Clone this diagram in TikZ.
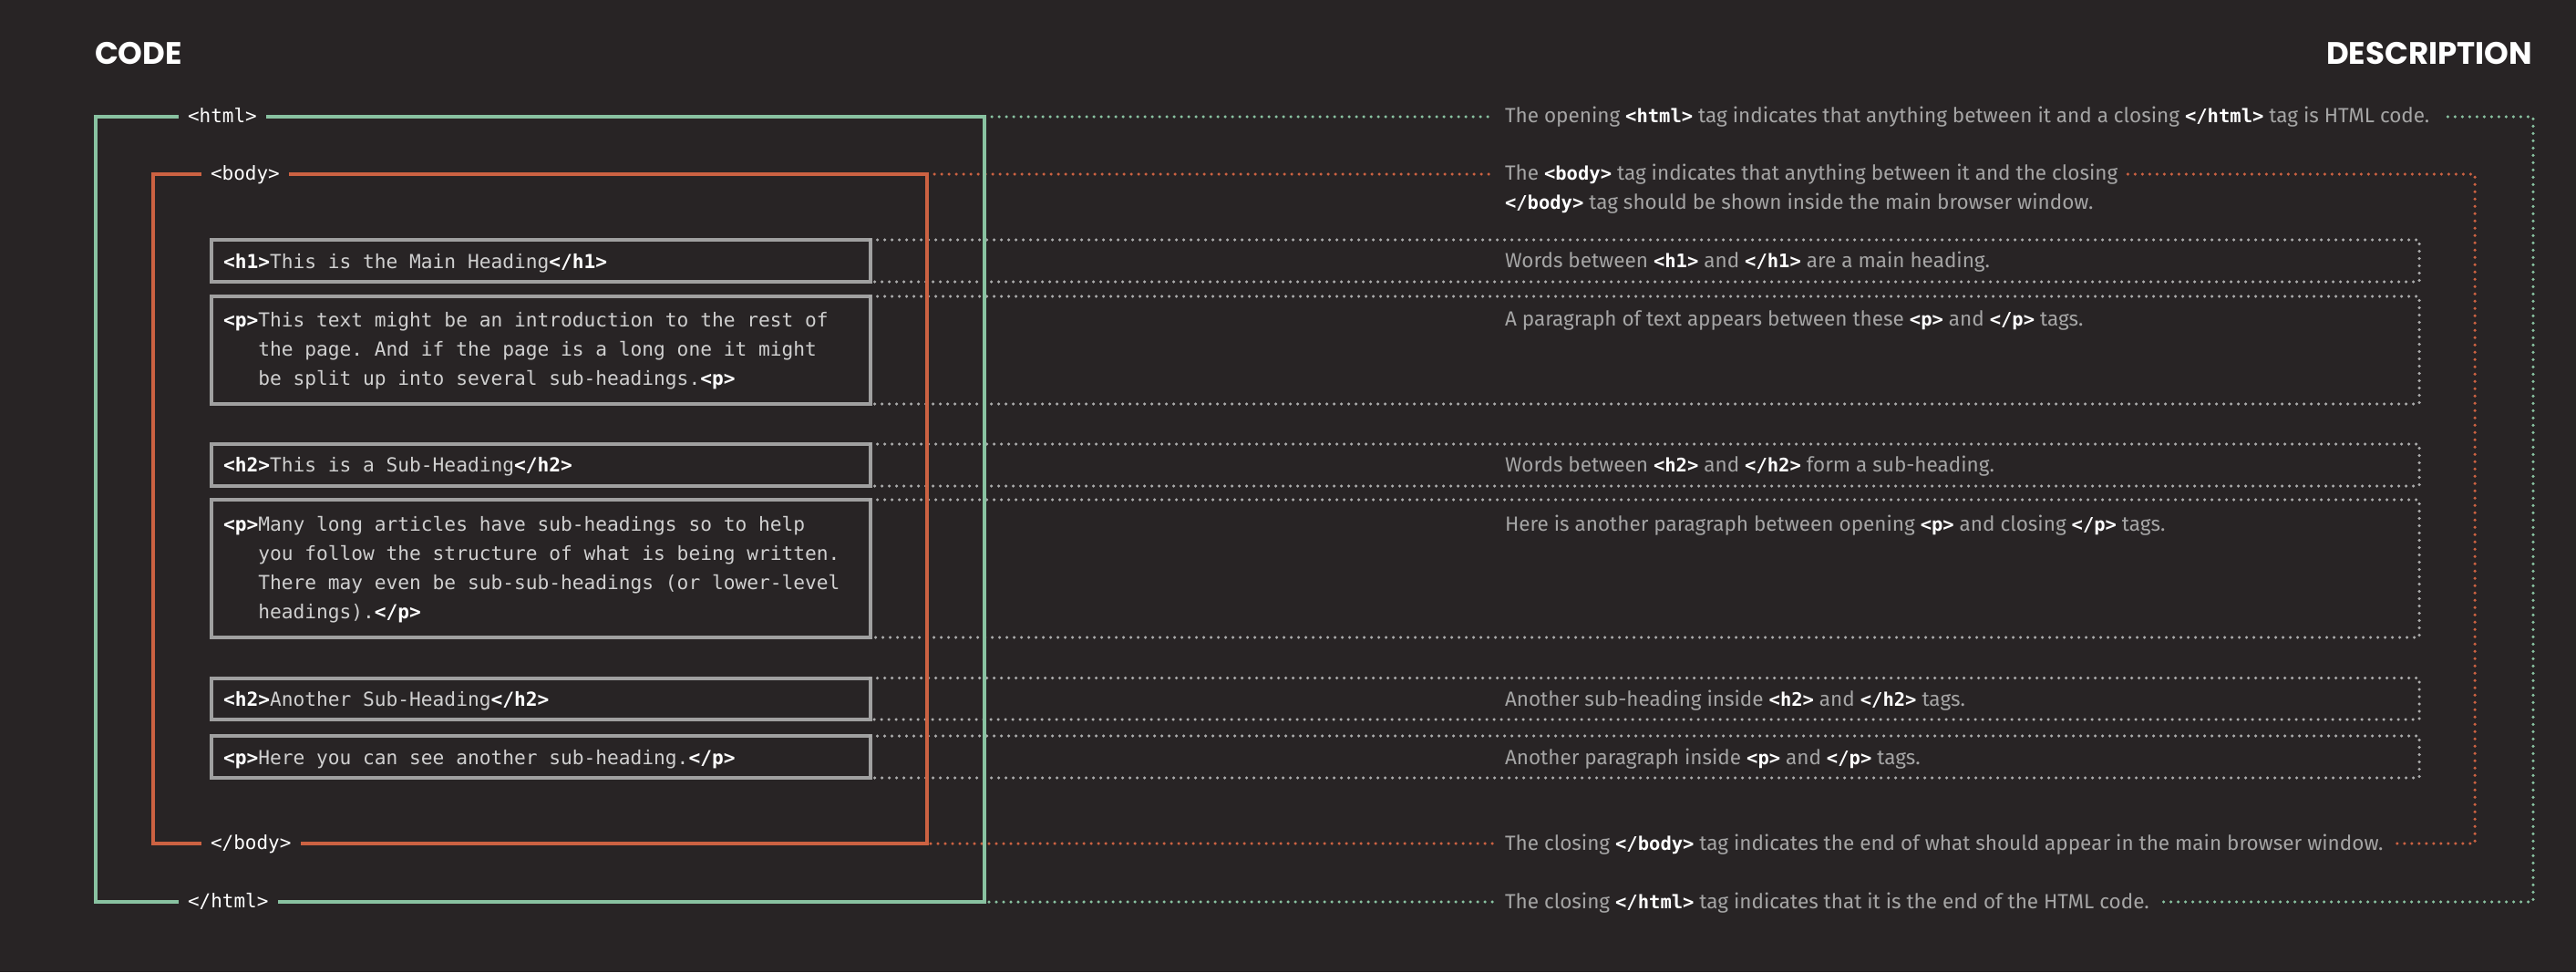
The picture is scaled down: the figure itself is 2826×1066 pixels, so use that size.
\documentclass[tikz,border=0pt]{standalone}
\usepackage{fontspec}
\newfontfamily\codefont{DejaVu Sans Mono}
\newfontfamily\descfont{Fira Sans}
\newfontfamily\headfont{Poppins}
\definecolor{bg}{RGB}{40,36,37}
\definecolor{grn}{RGB}{137,194,161}
\definecolor{org}{RGB}{204,98,66}
\definecolor{boxgray}{RGB}{160,160,160}
\definecolor{dotgray}{RGB}{172,172,172}
\definecolor{codegray}{RGB}{208,208,208}
\definecolor{descgray}{RGB}{165,165,165}
\newcommand\ctag[1]{{\bfseries\color{white}#1}}
\newcommand\dtag[1]{{\codefont\fontsize{20.5}{24}\selectfont\bfseries\color{white}#1}}
\frenchspacing
\tikzset{
  head/.style={font=\headfont\bfseries\fontsize{34}{40}\selectfont, text=white, inner sep=0pt, outer sep=0pt},
  cbox/.style={draw=boxgray, line width=4pt, minimum width=722.5pt, anchor=north west, inner sep=0pt, outer sep=0pt},
  ctext/.style={font=\codefont\fontsize{21.2}{26}\selectfont, text=codegray, anchor=base west, inner sep=0pt, outer sep=0pt},
  dtext/.style={font=\descfont\fontsize{22.5}{28}\selectfont, text=descgray, anchor=base west, inner sep=0pt, outer sep=0pt},
  lbl/.style={font=\codefont\fontsize{21}{26}\selectfont, text=white, fill=bg, inner xsep=10pt, inner ysep=4pt, outer sep=0pt, anchor=base west},
  dotline/.style={line width=3.5pt, line cap=round, dash pattern=on 0pt off 8pt},
  gydots/.style={dotline, draw=dotgray},
  ordots/.style={dotline, draw=org},
  grdots/.style={dotline, draw=grn},
  grsolid/.style={draw=grn, line width=3.6pt},
  orsolid/.style={draw=org, line width=3.6pt}
}
\begin{document}
\begin{tikzpicture}[x=1pt,y=-1pt]
\fill[bg] (0,0) rectangle (2826,1066);
\useasboundingbox (0,0) rectangle (2826,1066);

% headings
\node[head, anchor=base west] (code) at (104,70) {CODE};
\node[head, anchor=base east] (desc) at (2778,70) {DESCRIPTION};

% frame corners
\coordinate (hTL) at (105,128);
\coordinate (hTR) at (1080,128);
\coordinate (hBL) at (105,989);
\coordinate (hBR) at (1080,989);
\coordinate (bTL) at (168,191);
\coordinate (bTR) at (1017,191);
\coordinate (bBL) at (168,925);
\coordinate (bBR) at (1017,925);
\coordinate (gX) at (2654,0);
\coordinate (oX) at (2715,0);
\coordinate (nX) at (2779,0);

% code boxes
\node[cbox, minimum height=46pt] (h1) at (232,263) {};
\node[cbox, minimum height=118pt] (p1) at (232,325) {};
\node[cbox, minimum height=46pt] (h2) at (232,487) {};
\node[cbox, minimum height=151pt] (p2) at (232,548) {};
\node[cbox, minimum height=45.5pt] (h2b) at (232,743.5) {};
\node[cbox, minimum height=46pt] (p3) at (232,807) {};

% code text
\node[ctext] (h1t) at (245,294) {\ctag{<h1>}This is the Main Heading\ctag{</h1>}};
\node[ctext] (p1a) at (245,358) {\ctag{<p>}This text might be an introduction to the rest of};
\node[ctext] (p1b) at (245,390) {\hphantom{<p>}the page. And if the page is a long one it might};
\node[ctext] (p1c) at (245,422) {\hphantom{<p>}be split up into several sub-headings.\ctag{<p>}};
\node[ctext] (h2t) at (245,517.5) {\ctag{<h2>}This is a Sub-Heading\ctag{</h2>}};
\node[ctext] (p2a) at (245,582) {\ctag{<p>}Many long articles have sub-headings so to help};
\node[ctext] (p2b) at (245,614) {\hphantom{<p>}you follow the structure of what is being written.};
\node[ctext] (p2c) at (245,646) {\hphantom{<p>}There may even be sub-sub-headings (or lower-level};
\node[ctext] (p2d) at (245,678) {\hphantom{<p>}headings).\ctag{</p>}};
\node[ctext] (h2bt) at (245,774.5) {\ctag{<h2>}Another Sub-Heading\ctag{</h2>}};
\node[ctext] (p3t) at (245,838.5) {\ctag{<p>}Here you can see another sub-heading.\ctag{</p>}};

% descriptions
\node[dtext] (d1) at (1651,134.5) {The opening \dtag{<html>} tag indicates that anything between it and a closing \dtag{</html>} tag is HTML code.};
\node[dtext] (d2) at (1651,197) {The \dtag{<body>} tag indicates that anything between it and the closing};
\node[dtext] (d2b) at (1651,229) {\dtag{</body>} tag should be shown inside the main browser window.};
\node[dtext] (d3) at (1651,293.5) {Words between \dtag{<h1>} and \dtag{</h1>} are a main heading.};
\node[dtext] (d4) at (1651,357.5) {A paragraph of text appears between these \dtag{<p>} and \dtag{</p>} tags.};
\node[dtext] (d5) at (1651,517.5) {Words between \dtag{<h2>} and \dtag{</h2>} form a sub-heading.};
\node[dtext] (d6) at (1651,582) {Here is another paragraph between opening \dtag{<p>} and closing \dtag{</p>} tags.};
\node[dtext] (d7) at (1651,774.5) {Another sub-heading inside \dtag{<h2>} and \dtag{</h2>} tags.};
\node[dtext] (d8) at (1651,838.5) {Another paragraph inside \dtag{<p>} and \dtag{</p>} tags.};
\node[dtext] (d9) at (1651,932.5) {The closing \dtag{</body>} tag indicates the end of what should appear in the main browser window.};
\node[dtext] (d10) at (1651,996.5) {The closing \dtag{</html>} tag indicates that it is the end of the HTML code.};

% gray dotted guides
\foreach \b in {h1,p1,h2,p2,h2b,p3}{
  \draw[gydots] (\b.north east) -- (\b.north east -| gX) -- (\b.south east -| gX) -- (\b.south east);
}

% orange dotted guides
\draw[ordots] (bTR) -- ([xshift=-14pt]d2.west |- bTR);
\draw[ordots] ([xshift=11pt]d2.east |- bTR) -- (bTR -| oX) -- (bBR -| oX) -- ([xshift=11pt]d9.east |- bBR);
\draw[ordots] ([xshift=-14pt]d9.west |- bBR) -- (bBR);

% green dotted guides
\draw[grdots] (hTR) -- ([xshift=-14pt]d1.west |- hTR);
\draw[grdots] ([xshift=20pt]d1.east |- hTR) -- (hTR -| nX) -- (hBR -| nX) -- ([xshift=12pt]d10.east |- hBR);
\draw[grdots] ([xshift=-14pt]d10.west |- hBR) -- (hBR);

% solid frames
\draw[orsolid] (bTL) rectangle (bBR);
\draw[grsolid] (hTL) rectangle (hBR);

% frame labels
\node[lbl] (lhtml) at (196,134.5) {<html>};
\node[lbl] (lhtmlc) at (196,995.5) {</html>};
\node[lbl] (lbody) at (221,197.5) {<body>};
\node[lbl] (lbodyc) at (221,931.5) {</body>};
\end{tikzpicture}
\end{document}
